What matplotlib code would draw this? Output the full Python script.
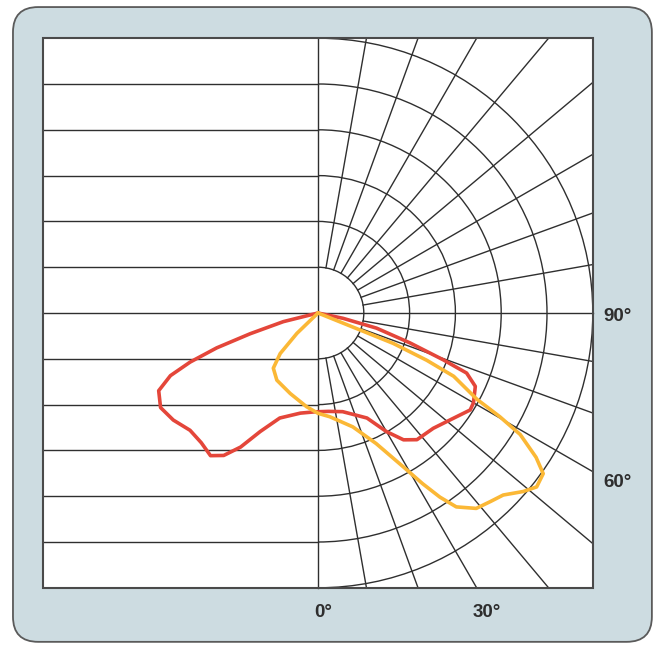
import numpy as np
import matplotlib.pyplot as plt
from matplotlib.patches import FancyBboxPatch, Rectangle, Arc

# polar light distribution, angle in degrees from nadir (0 = down, 90 = right)
# intensity in grid ring units (6 rings)
red_angle = [-90, -80, -76, -73, -71, -69, -67, -64, -59, -53.5, -47.5, -42, -37, -33.5,
             -30, -26, -20, -10, -2, 6, 14, 25, 30, 34, 38, 45, 51, 57.5, 60, 65, 68,
             69.5, 72, 75.5, 78, 90]
red_r = [0, 0, 0.78, 1.55, 2.34, 2.99, 3.50, 3.87, 4.01, 3.93, 3.79, 3.81, 3.90, 3.73,
         3.38, 2.88, 2.44, 2.22, 2.16, 2.16, 2.22, 2.53, 2.99, 3.34, 3.51, 3.56, 3.71, 3.94,
         3.92, 3.79, 3.50, 2.92, 2.11, 1.32, 0.56, 0]

orange_angle = [-90, -50, -46, -43, -39, -31.5, -19, -7, 0, 6.5, 17, 24, 29, 31.5, 33.5,
                35.5, 39, 42.5, 45.5, 49, 51.5, 54.5, 56.5, 59, 60.3, 61.5, 65, 66.5, 68, 90]
orange_r = [0, 0, 0.64, 1.21, 1.55, 1.72, 1.86, 2.06, 2.19, 2.28, 2.60, 3.12, 3.84, 4.37,
            4.82, 5.20, 5.49, 5.58, 5.67, 5.94, 6.10, 6.04, 5.71, 5.15, 4.57, 3.95, 3.27,
            2.59, 1.77, 0]

angle_labels = ['0°', '30°', '60°', '90°']

px = 45.8  # pixels per ring
W, H = 657, 645
cx, cy = 318, 313

fig = plt.figure(figsize=(W/100, H/100), dpi=100)
ax = fig.add_axes([0, 0, 1, 1])
ax.set_xlim(-cx/px, (W-cx)/px)
ax.set_ylim(-(H-cy)/px, cy/px)
ax.axis('off')

# background card
card = FancyBboxPatch((-6.66, -7.18), 13.95, 13.86,
                      boxstyle='round,pad=0,rounding_size=0.55',
                      fc='#cddce1', ec='#5a5a5a', lw=1.3, zorder=0)
ax.add_patch(card)
ax.add_patch(Rectangle((-6, -6), 12, 12, fc='white', ec='none', zorder=1))

gc = '#2f2f2f'
glw = 1.0
# left half horizontal lines
for y in range(-5, 6):
    ax.plot([-6, 0], [y, y], color=gc, lw=glw, zorder=2)
ax.plot([0, 0], [-6, 6], color=gc, lw=glw, zorder=2)
ax.plot([0, 6], [0, 0], color=gc, lw=glw, zorder=2)
# right half rings
for r in range(1, 7):
    ax.add_patch(Arc((0, 0), 2*r, 2*r, theta1=-90, theta2=90, color=gc, lw=glw, zorder=2))
# radials every 10 deg, clipped to the square
for a in range(10, 180, 10):
    if a == 90:
        continue
    t = np.radians(a)
    dx, dy = np.sin(t), -np.cos(t)
    L = min(6/abs(dx), 6/abs(dy))
    ax.plot([dx, L*dx], [dy, L*dy], color=gc, lw=glw, zorder=2)

ax.add_patch(Rectangle((-6, -6), 12, 12, fc='none', ec='#4a4a4a', lw=1.5, zorder=3))

# curves
for ang, rr, col in [(red_angle, red_r, '#e4463a'), (orange_angle, orange_r, '#fbb836')]:
    t = np.radians(ang)
    rr = np.array(rr)
    ax.plot(rr*np.sin(t), -rr*np.cos(t), color=col, lw=2.6, zorder=4,
            solid_joinstyle='round', solid_capstyle='round')

fs = 13.5
tc = '#2e2e2e'
pos = [(0.12, -6.53), (3.69, -6.53), (6.55, -3.71), (6.55, -0.08)]
for lab, (x, y) in zip(angle_labels, pos):
    ax.text(x, y, lab, ha='center', va='center', fontsize=fs,
            fontweight='bold', color=tc, family='Liberation Sans')

fig.savefig('out.png', dpi=100)
